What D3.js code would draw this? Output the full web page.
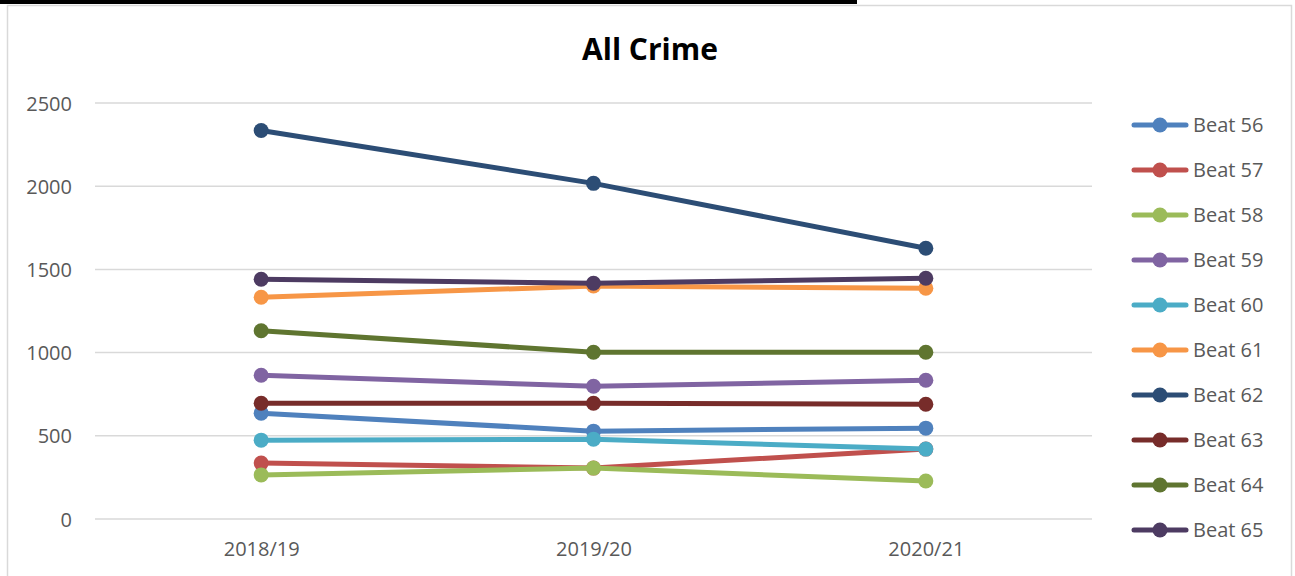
<!DOCTYPE html>
<html><head><meta charset="utf-8">
<script src="https://cdn.jsdelivr.net/npm/d3@7"></script>
<style>body{margin:0;background:#fff}svg{display:block}</style>
</head><body>
<script>
const categories = ["2018/19", "2019/20", "2020/21"];
const seriesNames = ["Beat 56","Beat 57","Beat 58","Beat 59","Beat 60","Beat 61","Beat 62","Beat 63","Beat 64","Beat 65"];
const beat56 = [636, 528, 546];
const beat57 = [336, 306, 420];
const beat58 = [265, 306, 228];
const beat59 = [864, 798, 834];
const beat60 = [474, 480, 420];
const beat61 = [1333, 1400, 1387];
const beat62 = [2335, 2017, 1627];
const beat63 = [696, 696, 690];
const beat64 = [1131, 1002, 1002];
const beat65 = [1441, 1417, 1447];
const yTicks = [0, 500, 1000, 1500, 2000, 2500];
const colors = ["#4F81BD","#C0504D","#9BBB59","#8064A2","#4BACC6","#F79646","#2C4D75","#772C2A","#5F7530","#4D3B62"];
const seriesValues = [beat56,beat57,beat58,beat59,beat60,beat61,beat62,beat63,beat64,beat65];
const series = seriesNames.map((n,i)=>({name:n, values:seriesValues[i], color:colors[i]}));

const W=1295, H=576;
const svg = d3.select("body").append("svg").attr("width",W).attr("height",H);
const font = "'Open Sans', sans-serif";

// top black bar (cropped heading underline)
svg.append("rect").attr("x",0).attr("y",0).attr("width",857).attr("height",4).attr("fill","#000");
// chart frame
svg.append("rect").attr("x",7.5).attr("y",5.5).attr("width",1284).attr("height",600)
  .attr("fill","none").attr("stroke","#d9d9d9").attr("stroke-width",1.5);

const x = d3.scalePoint().domain(categories).range([95,1092]).padding(0.5);
const y = d3.scaleLinear().domain([0,2500]).range([519,103]);

// gridlines
svg.append("g").selectAll("line").data(yTicks).join("line")
  .attr("x1",95).attr("x2",1092).attr("y1",d=>y(d)).attr("y2",d=>y(d))
  .attr("stroke","#d9d9d9").attr("stroke-width",1.5);

// y axis labels
const yAxis = d3.axisLeft(y).tickValues(yTicks).tickFormat(d3.format("d")).tickSize(0).tickPadding(0);
const gy = svg.append("g").attr("transform","translate(72,0)").call(yAxis);
gy.select(".domain").remove();
gy.selectAll("text").attr("font-family",font).attr("font-size",20).attr("fill","#595959").attr("dy","0.35em");

// x axis labels
const xAxis = d3.axisBottom(x).tickSize(0).tickPadding(0);
const gx = svg.append("g").attr("transform","translate(0,542)").call(xAxis);
gx.select(".domain").remove();
gx.selectAll("text").attr("font-family",font).attr("font-size",20).attr("fill","#595959").attr("dy","0.71em");

// title
svg.append("text").attr("x",650).attr("y",60).attr("text-anchor","middle")
  .attr("font-family",font).attr("font-weight","bold").attr("font-size",30).attr("fill","#000").text("All Crime");

// lines
const line = d3.line().x((d,i)=>x(categories[i])).y(d=>y(d));
const gs = svg.append("g").selectAll("g").data(series).join("g");
gs.append("path").attr("d",d=>line(d.values)).attr("fill","none").attr("stroke",d=>d.color)
  .attr("stroke-width",5).attr("stroke-linejoin","round").attr("stroke-linecap","round");
gs.selectAll("circle").data(d=>d.values.map((v,i)=>({v,i,c:d.color}))).join("circle")
  .attr("cx",d=>x(categories[d.i])).attr("cy",d=>y(d.v)).attr("r",7.5).attr("fill",d=>d.c);

// legend
const lg = svg.append("g").selectAll("g").data(series).join("g")
  .attr("transform",(d,i)=>`translate(0,${125+i*45})`);
lg.append("line").attr("x1",1134).attr("x2",1186).attr("stroke",d=>d.color).attr("stroke-width",5).attr("stroke-linecap","round");
lg.append("circle").attr("cx",1160).attr("r",7.5).attr("fill",d=>d.color);
lg.append("text").attr("x",1193).attr("dy","0.35em").attr("font-family",font).attr("font-size",20)
  .attr("fill","#595959").text(d=>d.name);
</script>
</body></html>
